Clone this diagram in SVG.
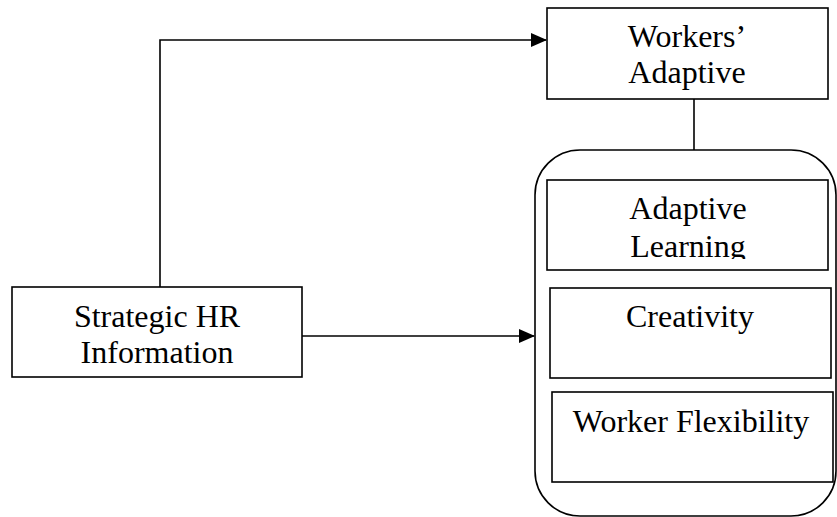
<svg xmlns="http://www.w3.org/2000/svg" width="837" height="517" viewBox="0 0 837 517">
<style>
.box{fill:#fff;stroke:#000;stroke-width:1.6}
.wire{fill:none;stroke:#000;stroke-width:1.6}
text{font-family:"Liberation Serif","Times New Roman",serif;font-size:32px;fill:#000;text-anchor:middle}
</style>
<defs>
<marker id="arr" markerWidth="16" markerHeight="14" refX="15" refY="7" orient="auto" markerUnits="userSpaceOnUse">
<path d="M0,0 L16,7 L0,14 Z" fill="#000"/>
</marker>
<clipPath id="clipAL"><rect x="540" y="175" width="295" height="84"/></clipPath>
</defs>
<rect width="837" height="517" fill="#fff"/>
<g id="connectors">
<path class="wire" d="M160,287 L160,40 L546,40" marker-end="url(#arr)"/>
<path class="wire" d="M302,336 L534,336" marker-end="url(#arr)"/>
<path class="wire" d="M694,99 L694,150"/>
</g>
<g id="workers-adaptive">
<rect class="box" x="547" y="8" width="281" height="91"/>
<text x="687" y="47">Workers’</text>
<text x="687" y="83">Adaptive</text>
</g>
<g id="group-container">
<rect class="box" x="535" y="150" width="301" height="366" rx="45" ry="45"/>
</g>
<g id="adaptive-learning">
<rect class="box" x="547" y="180" width="281" height="90"/>
<g clip-path="url(#clipAL)">
<text x="688" y="219">Adaptive</text>
<text x="688" y="257">Learning</text>
</g>
</g>
<g id="creativity">
<rect class="box" x="550" y="288" width="281" height="90"/>
<text x="690" y="327">Creativity</text>
</g>
<g id="worker-flexibility">
<rect class="box" x="552" y="392" width="281" height="90"/>
<text x="691" y="432">Worker Flexibility</text>
</g>
<g id="strategic-hr">
<rect class="box" x="12" y="287" width="290" height="90"/>
<text x="157" y="327">Strategic HR</text>
<text x="157" y="363">Information</text>
</g>
</svg>
